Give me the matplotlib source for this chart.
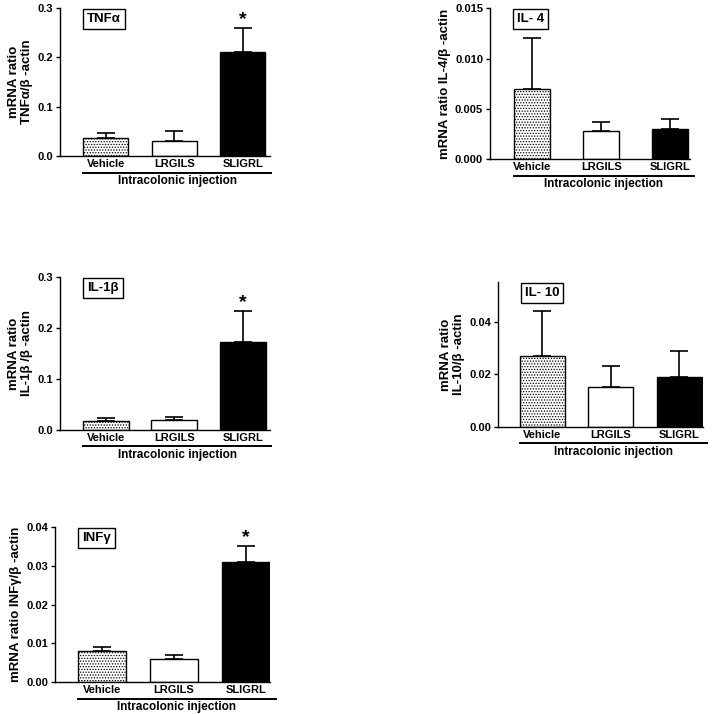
import matplotlib
matplotlib.use("Agg")
import matplotlib.pyplot as plt
from matplotlib.lines import Line2D
from matplotlib.transforms import ScaledTranslation

plt.rcParams['font.family'] = ['Liberation Sans', 'DejaVu Sans']
plt.rcParams['font.weight'] = 'bold'
plt.rcParams['hatch.linewidth'] = 0.6

groups = ["Vehicle", "LRGILS", "SLIGRL"]

tnf_mean = [0.037, 0.030, 0.210]
tnf_err = [0.009, 0.020, 0.050]
il4_mean = [0.0070, 0.0028, 0.0030]
il4_err = [0.0050, 0.0009, 0.0010]
il1b_mean = [0.018, 0.020, 0.173]
il1b_err = [0.005, 0.006, 0.060]
il10_mean = [0.027, 0.015, 0.019]
il10_err = [0.017, 0.008, 0.010]
inf_mean = [0.008, 0.006, 0.031]
inf_err = [0.001, 0.001, 0.004]

panels = [
    dict(title="TNFα", mean=tnf_mean, err=tnf_err, ylabel="mRNA ratio\nTNFα/β -actin",
         yticks=[0.0, 0.1, 0.2, 0.3], fmt="{:.1f}", ylim=(0, 0.3), star=True,
         rect=[0.0833, 0.7815, 0.292, 0.2073], xlim=(-0.67, 2.4), width=0.66),
    dict(title="IL- 4", mean=il4_mean, err=il4_err, ylabel="mRNA ratio IL-4/β -actin",
         yticks=[0.0, 0.005, 0.010, 0.015], fmt="{:.3f}", ylim=(0, 0.015), star=False,
         rect=[0.6806, 0.777, 0.278, 0.2115], xlim=(-0.61, 2.29), width=0.53),
    dict(title="IL-1β", mean=il1b_mean, err=il1b_err, ylabel="mRNA ratio\nIL-1β /β -actin",
         yticks=[0.0, 0.1, 0.2, 0.3], fmt="{:.1f}", ylim=(0, 0.3), star=True,
         rect=[0.0833, 0.3978, 0.292, 0.2143], xlim=(-0.67, 2.4), width=0.67),
    dict(title="IL- 10", mean=il10_mean, err=il10_err, ylabel="mRNA ratio\nIL-10/β -actin",
         yticks=[0.0, 0.02, 0.04], fmt="{:.2f}", ylim=(0, 0.055), star=False,
         rect=[0.6917, 0.402, 0.285, 0.203], xlim=(-0.65, 2.35), width=0.66),
    dict(title="INFγ", mean=inf_mean, err=inf_err, ylabel="mRNA ratio INFγ/β -actin",
         yticks=[0.0, 0.01, 0.02, 0.03, 0.04], fmt="{:.2f}", ylim=(0, 0.04), star=True,
         rect=[0.0764, 0.0448, 0.298, 0.217], xlim=(-0.65, 2.33), width=0.67),
]

fig = plt.figure(figsize=(7.2, 7.14), dpi=100)

for p in panels:
    ax = fig.add_axes(p["rect"])
    x = [0, 1, 2]
    w = p["width"]
    faces = ["white", "white", "black"]
    hatches = ["......", None, None]
    for i in range(3):
        ax.bar(x[i], p["mean"][i], width=w, color=faces[i], edgecolor="black",
               linewidth=1.0, hatch=hatches[i], zorder=2)
    ax.errorbar(x, p["mean"], yerr=[[0, 0, 0], p["err"]], fmt="none", ecolor="black",
                elinewidth=1.2, capsize=6.5, capthick=1.2, zorder=3)
    if p["star"]:
        ax.annotate("*", xy=(2, p["mean"][2] + p["err"][2]), xytext=(0, 0),
                    textcoords="offset points", ha="center", va="bottom",
                    fontsize=14, fontweight="bold")
    ax.set_xlim(*p["xlim"])
    ax.set_ylim(*p["ylim"])
    ax.set_yticks(p["yticks"])
    ax.set_yticklabels([p["fmt"].format(v) for v in p["yticks"]], fontsize=8, fontweight="bold")
    ax.set_xticks(x)
    ax.set_xticklabels(groups, fontsize=8, fontweight="bold")
    ax.tick_params(axis="x", length=0, pad=2)
    ax.tick_params(axis="y", length=3, width=1, pad=2)
    for s in ["top", "right"]:
        ax.spines[s].set_visible(False)
    for s in ["left", "bottom"]:
        ax.spines[s].set_linewidth(1.0)
    ax.set_ylabel(p["ylabel"], fontsize=9.5, fontweight="bold", labelpad=3, linespacing=1.1)
    # title box
    ax.annotate(p["title"], xy=(0, 1), xycoords="axes fraction", xytext=(27, -5),
                textcoords="offset pixels", ha="left", va="top", fontsize=9.5,
                fontweight="bold",
                bbox=dict(boxstyle="square,pad=0.3", fc="white", ec="black", lw=1.0))
    # underline and group label
    left = -w / 2
    right = 2 + w / 2 + 0.08
    trans = ax.get_xaxis_transform() + ScaledTranslation(0, -0.165, fig.dpi_scale_trans)
    ax.add_line(Line2D([left, right], [0, 0], transform=trans, color="black",
                       lw=1.4, clip_on=False))
    trans2 = ax.get_xaxis_transform() + ScaledTranslation(0, -0.19, fig.dpi_scale_trans)
    ax.text((left + right) / 2, 0, "Intracolonic injection", transform=trans2,
            ha="center", va="top", fontsize=8.5, fontweight="bold")

fig.savefig("out.png", dpi=100)
